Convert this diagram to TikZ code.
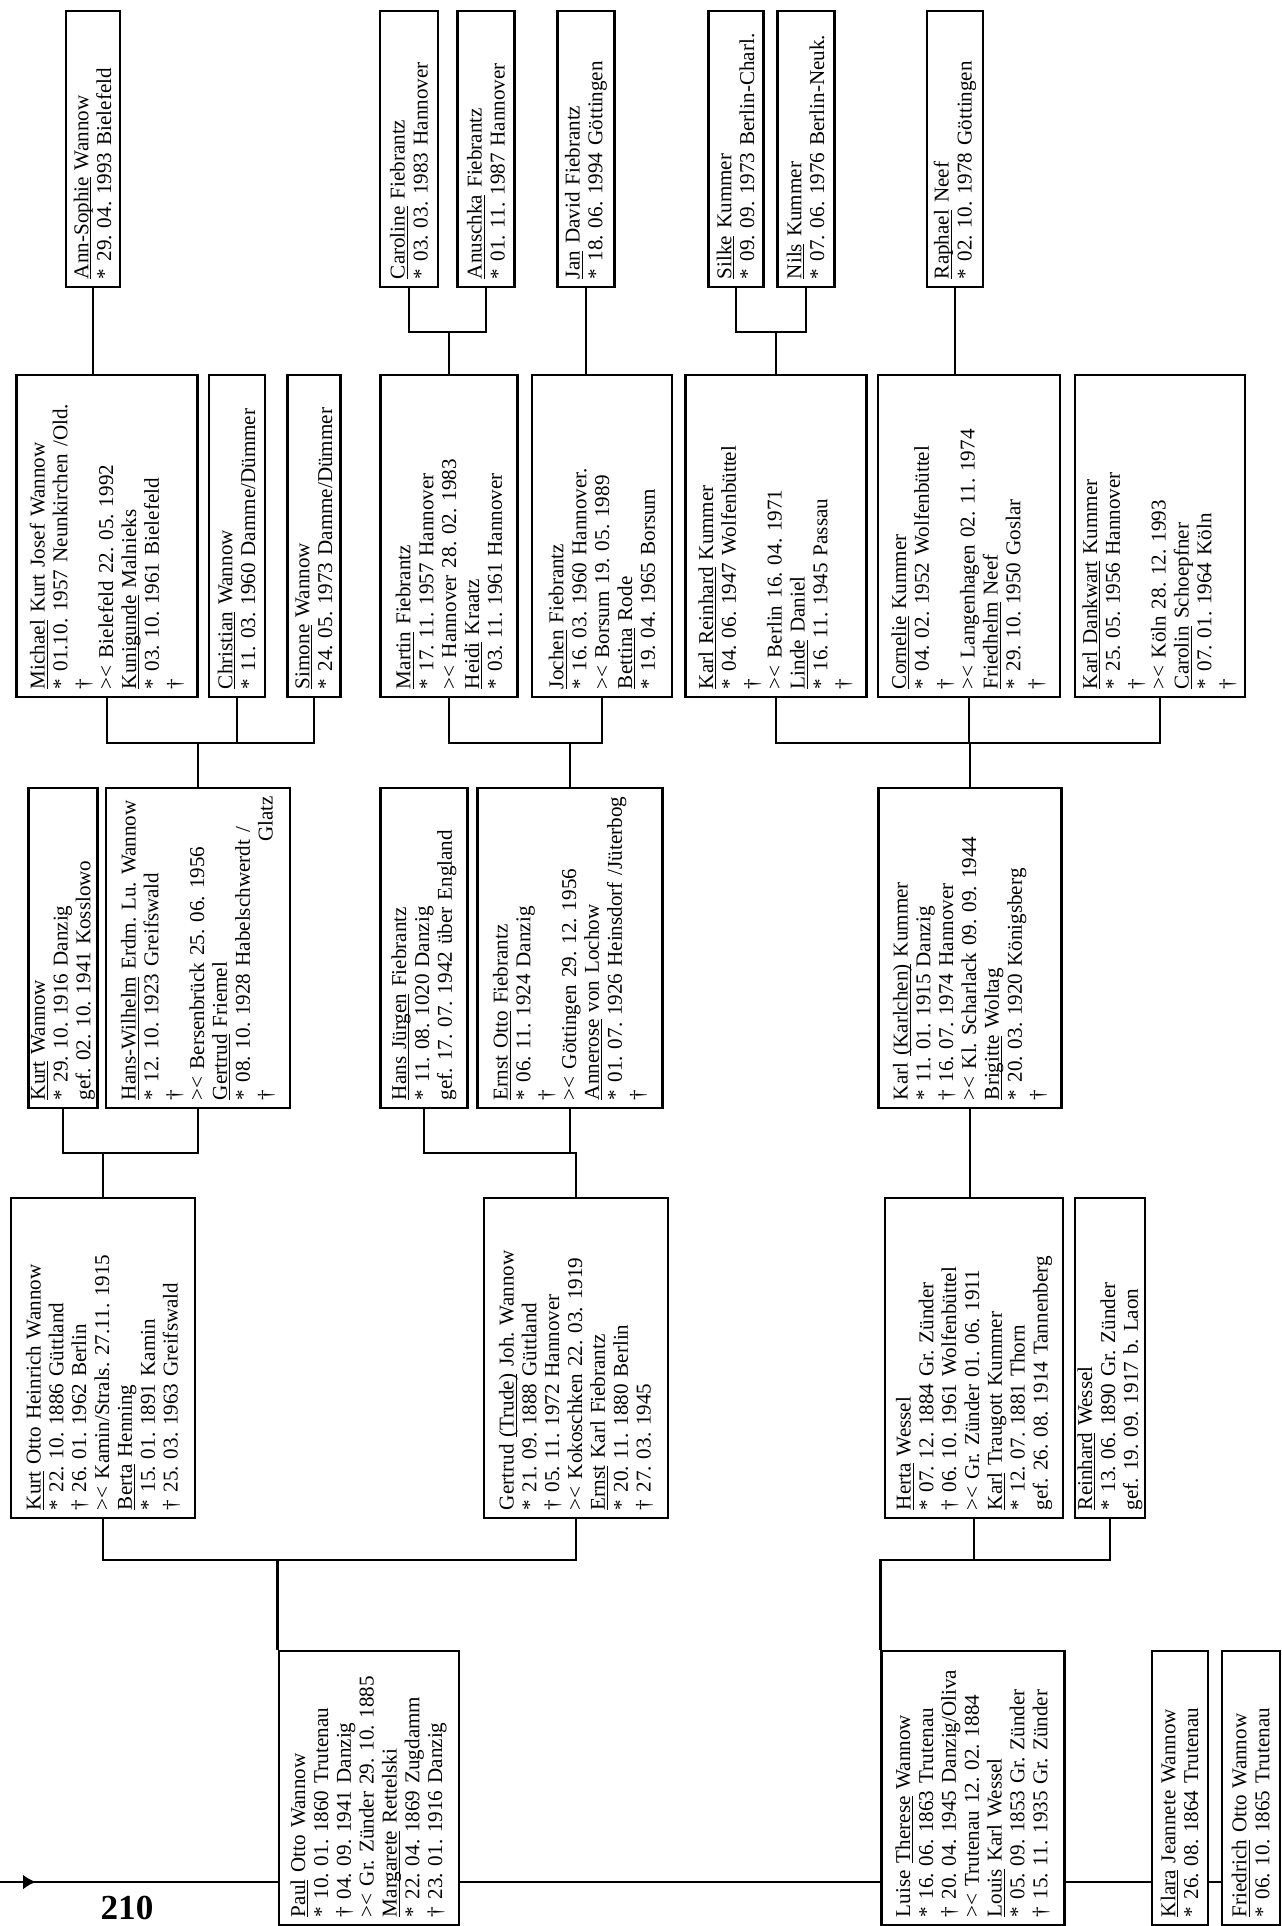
\documentclass[tikz,border=0pt]{standalone}
\usepackage{fontspec}
\setmainfont{Liberation Serif}
\usetikzlibrary{arrows.meta}
\frenchspacing
\newcommand{\uname}[1]{\underline{\smash{#1}}}

\tikzset{
  person/.style={draw, line width=0.55mm, rotate=90, align=left,
    inner xsep=1.6mm, inner ysep=0.5mm, font=\fontsize{12}{13}\selectfont},
  rowA/.style={person, text width=52mm},
  rowB/.style={person, text width=61.2mm},
  rowC/.style={person, text width=60.8mm},
  rowE/.style={person, text width=51.6mm},
  link/.style={line width=0.55mm},
}

\begin{document}
\begin{tikzpicture}[x=0.2mm, y=-0.2mm]
\useasboundingbox (0,0) rectangle (1282,1926);

% grandchildren
\node (annsophie) [rowA, minimum height=10.8mm] at (93,149) {\uname{Ann-Sophie} Wannow\\ {*} 29. 04. 1993 Bielefeld};
\node (caroline) [rowA, minimum height=11.6mm] at (409,149) {\uname{Caroline} Fiebrantz\\ {*} 03. 03. 1983 Hannover};
\node (anuschka) [rowA, minimum height=11.4mm] at (486,149) {\uname{Anuschka} Fiebrantz\\ {*} 01. 11. 1987 Hannover};
\node (jandavid) [rowA, minimum height=11.4mm] at (586,149) {\uname{Jan} David Fiebrantz\\ {*} 18. 06. 1994 Göttingen};
\node (silke) [rowA, minimum height=11mm] at (736,149) {\uname{Silke} Kummer\\ {*} 09. 09. 1973 Berlin-Charl.};
\node (nils) [rowA, minimum height=11.4mm] at (806,149) {\uname{Nils} Kummer\\ {*} 07. 06. 1976 Berlin-Neuk.};
\node (raphael) [rowA, minimum height=11.2mm] at (955,149) {\uname{Raphael} Neef\\ {*} 02. 10. 1978 Göttingen};

% children
\node (michael) [rowB, minimum height=36.2mm] at (107,536) {\uname{Michael} Kurt Josef Wannow\\ {*} 01.10. 1957 Neunkirchen /Old.\\ †\\ >< Bielefeld 22. 05. 1992\\ \uname{Kunigunde} Malnieks\\ {*} 03. 10. 1961 Bielefeld\\ †};
\node (christian) [rowB, minimum height=11.2mm] at (237,536) {\uname{Christian} Wannow\\ {*} 11. 03. 1960 Damme/Dümmer};
\node (simone) [rowB, minimum height=10.6mm] at (314,536) {\uname{Simone} Wannow\\ {*} 24. 05. 1973 Damme/Dümmer};
\node (martin) [rowB, minimum height=27.4mm] at (449,536) {\uname{Martin} Fiebrantz\\ {*} 17. 11. 1957 Hannover\\ >< Hannover 28. 02. 1983\\ \uname{Heidi} Kraatz\\ {*} 03. 11. 1961 Hannover};
\node (jochen) [rowB, minimum height=28mm] at (602,536) {\uname{Jochen} Fiebrantz\\ {*} 16. 03. 1960 Hannover.\\ >< Borsum 19. 05. 1989\\ \uname{Bettina} Rode\\ {*} 19. 04. 1965 Borsum};
\node (karlreinhard) [rowB, minimum height=36.2mm] at (776,536) {\uname{Karl Reinhard} Kummer\\ {*} 04. 06. 1947 Wolfenbüttel\\ †\\ >< Berlin 16. 04. 1971\\ \uname{Linde} Daniel\\ {*} 16. 11. 1945 Passau\\ †};
\node (cornelie) [rowB, minimum height=36.4mm] at (969,536) {\uname{Cornelie} Kummer\\ {*} 04. 02. 1952 Wolfenbüttel\\ †\\ >< Langenhagen 02. 11. 1974\\ \uname{Friedhelm} Neef\\ {*} 29. 10. 1950 Goslar\\ †};
\node (karldankwart) [rowB, minimum height=34mm] at (1160,536) {\uname{Karl Dankwart} Kummer\\ {*} 25. 05. 1956 Hannover\\ †\\ >< Köln 28. 12. 1993\\ \uname{Carolin} Schoepfner\\ {*} 07. 01. 1964 Köln\\ †};

% parents
\node (kurt) [rowC, minimum height=13mm] at (63,948) {\uname{Kurt} Wannow\\ {*} 29. 10. 1916 Danzig\\ gef. 02. 10. 1941 Kosslowo};
\node (hanswilhelm) [rowC, minimum height=36.8mm] at (198,948) {\uname{Hans-Wilhelm} Erdm. Lu. Wannow\\ {*} 12. 10. 1923 Greifswald\\ †\\ >< Bersenbrück 25. 06. 1956\\ \uname{Gertrud} Friemel\\ {*} 08. 10. 1928 Habelschwerdt /\\ †\hfill Glatz};
\node (hansjuergen) [rowC, minimum height=17.4mm] at (424,948) {\uname{Hans Jürgen} Fiebrantz\\ {*} 11. 08. 1020 Danzig\\ gef. 17. 07. 1942 über England};
\node (ernstotto) [rowC, minimum height=37mm] at (570,948) {\uname{Ernst Otto} Fiebrantz\\ {*} 06. 11. 1924 Danzig\\ †\\ >< Göttingen 29. 12. 1956\\ \uname{Annerose} von Lochow\\ {*} 01. 07. 1926 Heinsdorf /Jüterbog\\ †};
\node (karlchen) [rowC, minimum height=36.6mm] at (970,948) {Karl \uname{(Karlchen)} Kummer\\ {*} 11. 01. 1915 Danzig\\ † 16. 07. 1974 Hannover\\ >< Kl. Scharlack 09. 09. 1944\\ \uname{Brigitte} Woltag\\ {*} 20. 03. 1920 Königsberg\\ †};

% grandparents
\node (koh) [rowC, minimum height=36.8mm] at (103,1358) {\uname{Kurt} Otto Heinrich Wannow\\ {*} 22. 10. 1886 Güttland\\ † 26. 01. 1962 Berlin\\ >< Kamin/Strals. 27.11. 1915\\ \uname{Berta} Henning\\ {*} 15. 01. 1891 Kamin\\ † 25. 03. 1963 Greifswald};
\node (gertrud) [rowC, minimum height=36.8mm] at (576,1358) {Gertrud \uname{(Trude)} Joh. Wannow\\ {*} 21. 09. 1888 Güttland\\ † 05. 11. 1972 Hannover\\ >< Kokoschken 22. 03. 1919\\ \uname{Ernst} Karl Fiebrantz\\ {*} 20. 11. 1880 Berlin\\ † 27. 03. 1945};
\node (herta) [rowC, minimum height=35.6mm] at (974,1358) {\uname{Herta} Wessel\\ {*} 07. 12. 1884 Gr. Zünder\\ † 06. 10. 1961 Wolfenbüttel\\ >< Gr. Zünder 01. 06. 1911\\ \uname{Karl} Traugott Kummer\\ {*} 12. 07. 1881 Thorn\\ gef. 26. 08. 1914 Tannenberg};
\node (reinhard) [rowC, minimum height=14mm] at (1110,1358) {\uname{Reinhard} Wessel\\ {*} 13. 06. 1890 Gr. Zünder\\ gef. 19. 09. 1917 b. Laon};

% siblings
\node (paul) [rowE, minimum height=36mm] at (369,1788) {\uname{Paul} Otto Wannow\\ {*} 10. 01. 1860 Trutenau\\ † 04. 09. 1941 Danzig\\ >< Gr. Zünder 29. 10. 1885\\ \uname{Margarete} Rettelski\\ {*} 22. 04. 1869 Zugdamm\\ † 23. 01. 1916 Danzig};
\node (luise) [rowE, minimum height=36.6mm] at (973,1788) {Luise \uname{Therese} Wannow\\ {*} 16. 06. 1863 Trutenau\\ † 20. 04. 1945 Danzig/Oliva\\ >< Trutenau 12. 02. 1884\\ \uname{Louis} Karl Wessel\\ {*} 05. 09. 1853 Gr. Zünder\\ † 15. 11. 1935 Gr. Zünder};
\node (klara) [rowE, minimum height=11.2mm] at (1180,1788) {\uname{Klara} Jeannete Wannow\\ {*} 26. 08. 1864 Trutenau};
\node (friedrich) [rowE, minimum height=11.6mm] at (1251,1788) {\uname{Friedrich} Otto Wannow\\ {*} 06. 10. 1865 Trutenau};

\node (pagenr) at (127,1908) {\fontsize{20}{20}\selectfont\bfseries 210};

% connectors
\coordinate (barA) at (0,332);
\coordinate (barB) at (0,743);
\coordinate (barC) at (0,1153);
\coordinate (barD) at (0,1560);
\coordinate (sib) at (0,1882);

\draw[link] (annsophie.west) -- (annsophie.west |- michael.east);
\draw[link] (caroline.west) |- (martin.east |- barA) -- (martin.east);
\draw[link] (anuschka.west) |- (martin.east |- barA);
\draw[link] (jandavid.west) -- (jandavid.west |- jochen.east);
\draw[link] (silke.west) |- (karlreinhard.east |- barA) -- (karlreinhard.east);
\draw[link] (nils.west) |- (karlreinhard.east |- barA);
\draw[link] (raphael.west) -- (raphael.west |- cornelie.east);

\draw[link] (michael.west) |- (hanswilhelm.east |- barB) -- (hanswilhelm.east);
\draw[link] (christian.west) |- (hanswilhelm.east |- barB);
\draw[link] (simone.west) |- (hanswilhelm.east |- barB);
\draw[link] (martin.west) |- (ernstotto.east |- barB) -- (ernstotto.east);
\draw[link] (jochen.west) |- (ernstotto.east |- barB);
\draw[link] (karlreinhard.west) |- (karlchen.east |- barB) -- (karlchen.east);
\draw[link] (cornelie.west) |- (karlchen.east |- barB);
\draw[link] (karldankwart.west) |- (karlchen.east |- barB);

\draw[link] (kurt.west) |- (koh.east |- barC) -- (koh.east);
\draw[link] (hanswilhelm.west) |- (koh.east |- barC);
\draw[link] (hansjuergen.west) |- (gertrud.east |- barC) -- (gertrud.east);
\draw[link] (ernstotto.west) |- (gertrud.east |- barC);
\draw[link] (karlchen.west) -- (karlchen.west |- herta.east);

\draw[link] (koh.west) |- (paul.north east |- barD) -- (paul.north east);
\draw[link] (gertrud.west) |- (paul.north east |- barD);
\draw[link] (herta.west) |- (luise.north east |- barD) -- (luise.north east);
\draw[link] (reinhard.west) |- (luise.north east |- barD);

\draw[link] (sib) -- (paul.north |- sib);
\draw[link, -{Latex[length=2.6mm, width=3mm]}] (sib) -- ++(36,0);
\draw[link] (paul.south |- sib) -- (luise.north |- sib);
\draw[link] (luise.south |- sib) -- (klara.north |- sib);
\draw[link] (klara.south |- sib) -- (friedrich.north |- sib);
\end{tikzpicture}
\end{document}
